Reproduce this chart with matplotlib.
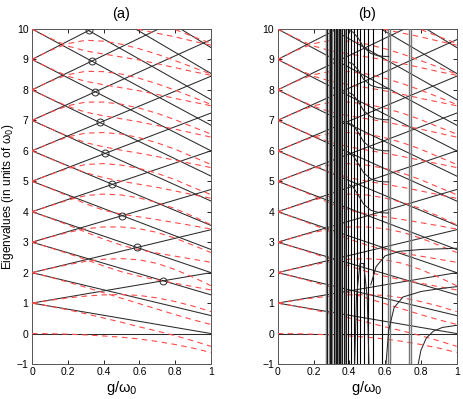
import matplotlib
matplotlib.use("Agg")
import matplotlib.pyplot as plt

plt.rcParams['font.family'] = ['Liberation Sans', 'DejaVu Sans']

# ---------------- data ----------------
g_grid = [0.0, 0.1, 0.2, 0.3, 0.4, 0.5, 0.6, 0.7, 0.8, 0.9, 1.0]

# straight lines: start value at g=0 and slope
jc_start = [0, 1, 2, 3, 4, 5, 6, 7, 8, 9, 10, 11, 12, 13, 14]
jc_slope = [0.0, 1.0, 1.41, 1.73, 2.0, 2.24, 2.45, 2.65, 2.83, 3.0, 3.16, 3.32, 3.46, 3.61, 3.74]

# circles (avoided-crossing marks) in panel (a)
circle_g = [0.318, 0.334, 0.354, 0.378, 0.408, 0.449, 0.505, 0.586, 0.733]
circle_E = [9.97, 8.95, 7.94, 6.93, 5.92, 4.90, 3.87, 2.83, 1.73]

# red dashed curves (values at g_grid)
red_0 = [0.0, -0.005, -0.02, -0.045, -0.08, -0.12, -0.18, -0.26, -0.36, -0.48, -0.62]
red_d1 = [1.0, 0.895, 0.78, 0.65, 0.51, 0.37, 0.22, 0.08, -0.07, -0.24, -0.42]
red_u1 = [1.0, 1.09, 1.17, 1.23, 1.27, 1.28, 1.25, 1.17, 1.05, 0.90, 0.72]
red_d2 = [2.0, 1.853, 1.69, 1.52, 1.34, 1.16, 0.98, 0.80, 0.62, 0.45, 0.30]
red_u2 = [2.0, 2.135, 2.26, 2.37, 2.44, 2.46, 2.42, 2.30, 2.10, 1.85, 1.57]
red_d3 = [3.0, 2.82, 2.63, 2.43, 2.22, 2.03, 1.88, 1.76, 1.65, 1.54, 1.43]
red_u3 = [3.0, 3.165, 3.32, 3.44, 3.50, 3.50, 3.44, 3.32, 3.13, 2.90, 2.66]
red_d4 = [4.0, 3.79, 3.57, 3.33, 3.10, 2.90, 2.75, 2.64, 2.54, 2.44, 2.34]
red_u4 = [4.0, 4.19, 4.38, 4.53, 4.58, 4.55, 4.45, 4.30, 4.10, 3.85, 3.57]
red_d5 = [5.0, 4.77, 4.52, 4.26, 4.05, 3.92, 3.83, 3.74, 3.64, 3.54, 3.43]
red_u5 = [5.0, 5.22, 5.42, 5.55, 5.58, 5.53, 5.42, 5.26, 5.05, 4.80, 4.56]
red_d6 = [6.0, 5.75, 5.50, 5.28, 5.12, 5.00, 4.90, 4.80, 4.68, 4.56, 4.44]
red_u6 = [6.0, 6.24, 6.46, 6.58, 6.60, 6.55, 6.43, 6.26, 6.05, 5.80, 5.55]
red_d7 = [7.0, 6.74, 6.48, 6.27, 6.13, 6.02, 5.92, 5.81, 5.69, 5.57, 5.45]
red_u7 = [7.0, 7.26, 7.48, 7.60, 7.60, 7.53, 7.40, 7.23, 7.02, 6.78, 6.55]
red_d8 = [8.0, 7.72, 7.46, 7.27, 7.15, 7.05, 6.95, 6.83, 6.71, 6.58, 6.45]
red_u8 = [8.0, 8.28, 8.50, 8.61, 8.60, 8.52, 8.38, 8.20, 7.99, 7.76, 7.52]
red_d9 = [9.0, 8.71, 8.45, 8.28, 8.17, 8.07, 7.97, 7.85, 7.72, 7.60, 7.48]
red_u9 = [9.0, 9.29, 9.52, 9.63, 9.60, 9.50, 9.35, 9.17, 8.96, 8.74, 8.52]
red_d10 = [10.0, 9.70, 9.44, 9.28, 9.18, 9.08, 8.98, 8.86, 8.73, 8.60, 8.48]
red_u10 = [10.0, 10.30, 10.53, 10.64, 10.62, 10.53, 10.38, 10.20, 9.98, 9.75, 9.53]
red_d11 = [11.0, 10.68, 10.42, 10.28, 10.18, 10.08, 9.98, 9.86, 9.74, 9.60, 9.47]

red_curves = [red_0, red_d1, red_u1, red_d2, red_u2, red_d3, red_u3, red_d4, red_u4,
              red_d5, red_u5, red_d6, red_u6, red_d7, red_u7, red_d8, red_u8,
              red_d9, red_u9, red_d10, red_u10, red_d11]

# panel (b): vertical pole lines (g positions)
poles_black = [0.268, 0.278, 0.286, 0.292, 0.298, 0.305, 0.312, 0.318, 0.326, 0.334,
               0.342, 0.350, 0.360, 0.370, 0.382, 0.395, 0.410, 0.428, 0.445, 0.462,
               0.480, 0.505, 0.530, 0.585]
poles_gray = [0.272, 0.289, 0.302, 0.322, 0.338, 0.355, 0.375, 0.615, 0.625, 0.735, 0.745]

# panel (b): extra curves (g, E)
sb_g = [0.40, 0.42, 0.45, 0.48, 0.52, 0.56, 0.60, 0.62]
sb_9 = [9.95, 9.90, 9.70, 9.40, 9.20, 9.12, 9.10, 9.10]
sb_8 = [8.90, 8.85, 8.65, 8.35, 8.15, 8.08, 8.05, 8.05]
sb_7 = [7.90, 7.85, 7.62, 7.32, 7.12, 7.05, 7.02, 7.02]
sb_6 = [6.90, 6.85, 6.60, 6.30, 6.10, 6.03, 6.00, 6.00]
sb_5 = [5.90, 5.85, 5.58, 5.28, 5.08, 5.00, 4.98, 4.98]
sb_4 = [4.88, 4.82, 4.55, 4.25, 4.05, 3.98, 3.96, 3.96]
sb_curves = [sb_9, sb_8, sb_7, sb_6, sb_5, sb_4]

hook1_g = [0.785, 0.80, 0.83, 0.87, 0.92, 1.0]
hook1_E = [-1.0, -0.55, -0.15, 0.08, 0.20, 0.27]
hook2_g = [0.605, 0.62, 0.65, 0.70, 0.80, 0.90, 1.0]
hook2_E = [-1.0, 0.10, 0.85, 1.20, 1.38, 1.47, 1.54]
hook3_g = [0.52, 0.55, 0.60, 0.68, 0.80, 1.0]
hook3_E = [1.60, 2.20, 2.55, 2.70, 2.76, 2.80]
arch_g = [0.43, 0.44, 0.46, 0.48, 0.50, 0.51]
arch_E = [-1.0, 1.2, 2.3, 2.3, 1.2, -1.0]

# ---------------- plotting ----------------
W, H = 463, 399
fig = plt.figure(figsize=(W / 100, H / 100), dpi=100)
axA = fig.add_axes([32 / W, 1 - 364 / H, 179 / W, 335 / H])
axB = fig.add_axes([277.7 / W, 1 - 364 / H, 179 / W, 335 / H])

line_col = '#2a2a2a'
red_col = '#ff4a4a'


def draw_common(ax):
    for n, s in zip(jc_start, jc_slope):
        if n <= 10:
            ax.plot([0, 1], [n, n + s], color=line_col, lw=0.75, zorder=2)
        if n > 0:
            ax.plot([0, 1], [n, n - s], color=line_col, lw=0.75, zorder=2)
    for c in red_curves:
        ax.plot(g_grid, c, color=red_col, lw=0.8, ls=(0, (5, 4)), zorder=3)


def style(ax, title, ylabel=None):
    ax.set_xlim(0, 1)
    ax.set_ylim(-1, 10)
    ax.set_xticks([0, 0.2, 0.4, 0.6, 0.8, 1])
    ax.set_xticklabels(['0', '0.2', '0.4', '0.6', '0.8', '1'])
    ax.set_yticks(list(range(-1, 11)))
    ax.set_yticklabels(['\u22121'] + [str(i) for i in range(0, 11)])
    ax.tick_params(direction='in', length=3, width=0.6, labelsize=7.5,
                   top=True, right=True, pad=2.5)
    for sp in ax.spines.values():
        sp.set_linewidth(0.7)
        sp.set_color('#555555')
    ax.set_xlabel('g/\u03c9$_0$', fontsize=10.5, labelpad=1)
    ax.set_title(title, fontsize=10.5, pad=8)
    if ylabel:
        ax.set_ylabel(ylabel, fontsize=8.6)
        ax.yaxis.set_label_coords(-0.088, 0.5)


# panel (a)
draw_common(axA)
axA.plot(circle_g, circle_E, 'o', mfc='none', mec=line_col, ms=5, mew=0.7, zorder=4)
style(axA, '(a)', 'Eigenvalues (in units of \u03c9$_0$)')

# panel (b)
draw_common(axB)
for p in poles_black:
    axB.axvline(p, color='black', lw=0.8, zorder=4)
for p in poles_gray:
    axB.axvline(p, color='#777777', lw=1.0, zorder=4)
for c in sb_curves:
    axB.plot(sb_g, c, color=line_col, lw=0.75, zorder=4)
axB.plot(hook1_g, hook1_E, color=line_col, lw=0.75, zorder=4)
axB.plot(hook2_g, hook2_E, color=line_col, lw=0.75, zorder=4)
axB.plot(hook3_g, hook3_E, color=line_col, lw=0.75, zorder=4)
axB.plot(arch_g, arch_E, color=line_col, lw=0.75, zorder=4)
style(axB, '(b)')

fig.savefig('out.png', dpi=100)
